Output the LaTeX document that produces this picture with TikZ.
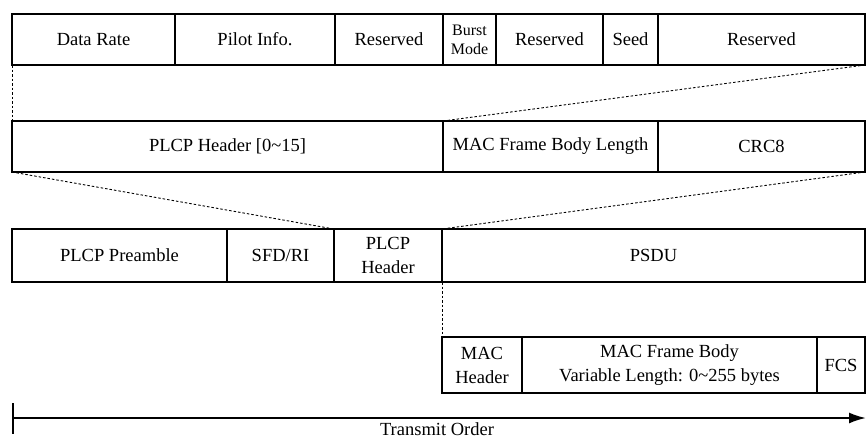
\documentclass[tikz,border=0pt]{standalone}
\usepackage{fontspec}
\setmainfont{Liberation Serif}
\usetikzlibrary{arrows.meta}
\tikzset{
    frame field/.style={
        draw,
        line width=2.2pt,
        inner sep=1pt,
        outer sep=0pt,
        align=center,
        font=\fontsize{18.5}{24}\selectfont
    },
    frame small/.style={frame field, font=\fontsize{16}{19}\selectfont},
    row one/.style={minimum height=51pt},
    row two/.style={minimum height=51pt},
    row three/.style={minimum height=53pt},
    row four/.style={minimum height=56pt},
    frame zoom/.style={line width=0.9pt, dash pattern=on 2.5pt off 2pt},
    order arrow/.style={{Bar[width=31pt]}-{Latex[length=17pt,width=11pt]}, line width=2pt}
}
\begin{document}
\begin{tikzpicture}[x=1pt,y=-1pt]
    \useasboundingbox (0,0) rectangle (867,440);

    % PLCP header bits
    \node[frame field, row one, minimum width=163pt] (datarate) at (93.5,39.5) {Data Rate};
    \node[frame field, row one, minimum width=160pt] (pilot) at (255,39.5) {Pilot Info.};
    \node[frame field, row one, minimum width=108pt] (resvA) at (389,39.5) {Reserved};
    \node[frame small, row one, minimum width=53pt] (burst) at (469.5,39.5) {Burst\\Mode};
    \node[frame field, row one, minimum width=107pt] (resvB) at (549.5,39.5) {Reserved};
    \node[frame field, row one, minimum width=55pt] (seed) at (630.5,39.5) {Seed};
    \node[frame field, row one, minimum width=207pt] (resvC) at (761.5,39.5) {Reserved};

    % PLCP header
    \node[frame field, row two, minimum width=431pt] (hdrbits) at (227.5,146.5) {PLCP Header [0\textasciitilde15]};
    \node[frame field, row two, minimum width=215pt] (bodylen) at (550.5,146.5) {MAC Frame Body Length};
    \node[frame field, row two, minimum width=207pt] (crc) at (761.5,146.5) {CRC8};

    % PPDU
    \node[frame field, row three, minimum width=215pt] (preamble) at (119.5,255.5) {PLCP Preamble};
    \node[frame field, row three, minimum width=107pt] (sfd) at (280.5,255.5) {SFD/RI};
    \node[frame field, row three, minimum width=108pt] (plcphdr) at (388,255.5) {PLCP\\Header};
    \node[frame field, row three, minimum width=423pt] (psdu) at (653.5,255.5) {PSDU};

    % MAC frame
    \node[frame field, row four, minimum width=80pt] (machdr) at (482,365) {MAC\\Header};
    \node[frame field, row four, minimum width=295pt] (macbody) at (669.5,365) {MAC Frame Body\\Variable Length: 0\textasciitilde255 bytes};
    \node[frame field, row four, minimum width=48pt] (fcs) at (841,365) {FCS};

    \draw[frame zoom] (datarate.south west) -- (hdrbits.north west);
    \draw[frame zoom] (resvC.south east) -- (bodylen.north west);
    \draw[frame zoom] (hdrbits.south west) -- (plcphdr.north west);
    \draw[frame zoom] (crc.south east) -- (psdu.north west);
    \draw[frame zoom] (psdu.south west) -- (machdr.north west);

    \coordinate (orderstart) at (12,418);
    \coordinate (orderend) at (866,418);
    \draw[order arrow] (orderstart) -- (orderend);
    \node[font=\fontsize{18.5}{24}\selectfont, anchor=base, inner sep=0pt] (orderlabel) at (437,435) {Transmit Order};
\end{tikzpicture}
\end{document}
